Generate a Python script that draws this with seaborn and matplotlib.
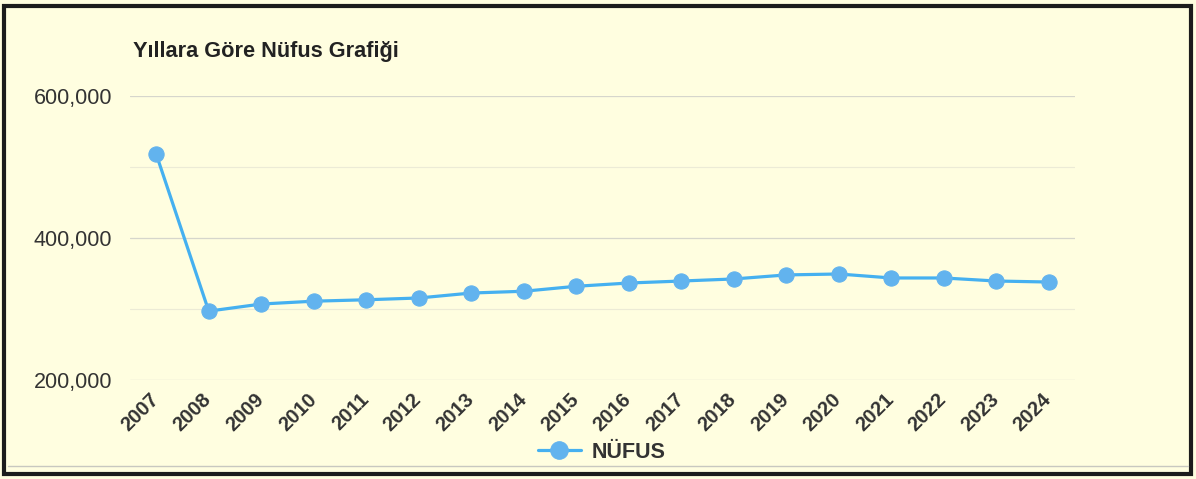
import numpy as np
import pandas as pd
import matplotlib
matplotlib.use('Agg')
import matplotlib.pyplot as plt
import matplotlib.ticker as mticker
import matplotlib.transforms as mtrans
from matplotlib.patches import Rectangle
import seaborn as sns

# values
years = ['2007', '2008', '2009', '2010', '2011', '2012', '2013', '2014', '2015',
         '2016', '2017', '2018', '2019', '2020', '2021', '2022', '2023', '2024']
population = [518000, 297000, 307000, 311000, 313000, 315500, 322500, 325000, 332000,
              336600, 339400, 342300, 348000, 349300, 343700, 343700, 339400, 338000]
y_ticks = [200000, 400000, 600000]
y_minor = [300000, 500000]

df = pd.DataFrame({'Yil': years, 'NÜFUS': population})

sns.set_theme(style='white')
plt.rcParams['font.family'] = ['Liberation Sans', 'DejaVu Sans']

bg = '#fffee0'
line_col = '#45b0f0'
marker_col = '#62b3ee'

fig = plt.figure(figsize=(11.96, 4.79), dpi=100)
fig.patch.set_facecolor(bg)
ax = fig.add_axes([130 / 1196, 1 - 380 / 479, 945 / 1196, 284 / 479])
ax.set_facecolor(bg)

sns.lineplot(data=df, x='Yil', y='NÜFUS', ax=ax, color=line_col, linewidth=2.3,
             marker='o', markersize=11, markerfacecolor=marker_col,
             markeredgecolor=marker_col, label='NÜFUS', sort=False)

ax.set_xlim(-0.5, len(years) - 0.5)
ax.set_ylim(200000, 600000)
ax.set_yticks(y_ticks)
ax.yaxis.set_major_formatter(mticker.FuncFormatter(lambda v, p: f'{int(v):,}'))
ax.set_yticks(y_minor, minor=True)
ax.grid(axis='y', which='major', color='#d6d6cc', linewidth=0.9)
ax.grid(axis='y', which='minor', color='#ecebd6', linewidth=0.8)
ax.set_axisbelow(True)
for s in ax.spines.values():
    s.set_visible(False)
ax.tick_params(axis='both', which='both', length=0)
ax.tick_params(axis='y', labelsize=15.5, labelcolor='#333333', pad=13)
ax.tick_params(axis='x', pad=7)

# rotated year labels, nudged a bit to the left like the original
shift = mtrans.ScaledTranslation(-7 / 100, 0, fig.dpi_scale_trans)
for lab in ax.get_xticklabels():
    lab.set_rotation(45)
    lab.set_ha('right')
    lab.set_va('top')
    lab.set_rotation_mode('anchor')
    lab.set_fontsize(14.5)
    lab.set_fontweight('bold')
    lab.set_color('#333333')
    lab.set_transform(lab.get_transform() + shift)
ax.set_xlabel('')
ax.set_ylabel('')

fig.text(133 / 1196, 1 - 52 / 479, 'Yıllara Göre Nüfus Grafiği', fontsize=15.7,
         fontweight='bold', color='#222222', va='center', ha='left')

leg = ax.legend(loc='center', bbox_to_anchor=(0.503, 1 - 452 / 479),
                bbox_transform=fig.transFigure, frameon=False, handlelength=2.0,
                handletextpad=0.5, markerscale=1.15,
                prop={'weight': 'bold', 'size': 15.5})
for t in leg.get_texts():
    t.set_color('#333333')

# frame around the picture, with the thin grey line above its bottom edge
fig.patches.append(Rectangle((4 / 1196, 5 / 479), 1187 / 1196, 468 / 479,
                             transform=fig.transFigure, fill=False,
                             edgecolor='#1c1c1c', linewidth=3))
fig.add_artist(plt.Line2D([8 / 1196, 1188 / 1196], [1 - 466 / 479, 1 - 466 / 479],
                          transform=fig.transFigure, color='#c8c8c0', linewidth=1))

fig.savefig('out.png', dpi=100, facecolor=bg)
